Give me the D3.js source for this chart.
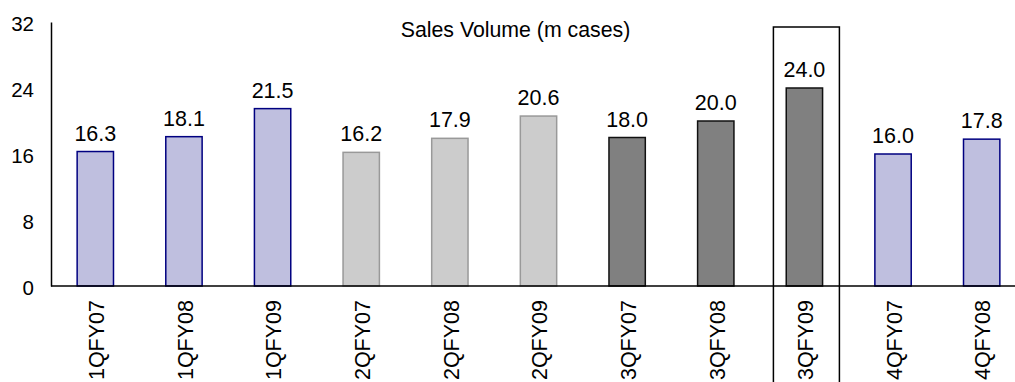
<!DOCTYPE html>
<html>
<head>
<meta charset="utf-8">
<script src="https://cdn.jsdelivr.net/npm/d3@7"></script>
<style>
  html, body { margin: 0; padding: 0; background: #fff; overflow: hidden; }
  svg { display: block; font-family: Arial, "Liberation Sans", sans-serif; }
</style>
</head>
<body>
<svg id="chart" width="1015" height="382"></svg>
<script>
const categories = ["1QFY07","1QFY08","1QFY09","2QFY07","2QFY08","2QFY09","3QFY07","3QFY08","3QFY09","4QFY07","4QFY08"];
const salesVolume = [16.3, 18.1, 21.5, 16.2, 17.9, 20.6, 18.0, 20.0, 24.0, 16.0, 17.8];
const quarterGroup = ["Q1","Q1","Q1","Q2","Q2","Q2","Q3","Q3","Q3","Q4","Q4"];
const yTicks = [0, 8, 16, 24, 32];
const highlighted = "3QFY09";
const title = "Sales Volume (m cases)";

const fills = { Q1: "#bfbfdf", Q2: "#cccccc", Q3: "#808080", Q4: "#bfbfdf" };
const strokes = { Q1: "#000080", Q2: "#999999", Q3: "#111111", Q4: "#000080" };

const svg = d3.select("#chart");
const W = 1015, H = 382;
const x0 = 51, x1 = 1026, yBase = 286, yTop = 22;

const x = d3.scaleBand().domain(categories).range([x0, x1]).paddingInner(0.59).paddingOuter(0.295);
const y = d3.scaleLinear().domain([0, 32]).range([yBase, yTop]);

const data = categories.map((c, i) => ({ c, v: salesVolume[i], g: quarterGroup[i] }));

// highlight box
const hc = x(highlighted) + x.bandwidth() / 2;
svg.append("rect")
  .attr("x", hc - 31).attr("y", 27)
  .attr("width", 66).attr("height", H - 27 + 10)
  .attr("fill", "none").attr("stroke", "#000").attr("stroke-width", 1.5);

// bars
svg.selectAll("rect.bar").data(data).enter().append("rect")
  .attr("class", "bar")
  .attr("x", d => x(d.c))
  .attr("y", d => y(d.v))
  .attr("width", x.bandwidth())
  .attr("height", d => yBase - y(d.v))
  .attr("fill", d => fills[d.g])
  .attr("stroke", d => strokes[d.g])
  .attr("stroke-width", 1.5);

// value labels
svg.selectAll("text.val").data(data).enter().append("text")
  .attr("class", "val")
  .attr("x", d => x(d.c) + x.bandwidth() / 2)
  .attr("y", d => y(d.v) - 11)
  .attr("text-anchor", "middle")
  .attr("font-size", 21.5)
  .attr("fill", "#000")
  .text(d => d.v.toFixed(1));

// y axis
const yAxis = d3.axisLeft(y).tickValues(yTicks).tickSize(0).tickPadding(17).tickFormat(d3.format("d"));
const yg = svg.append("g").attr("transform", `translate(${x0},0)`).call(yAxis);
yg.select(".domain").attr("stroke", "#000").attr("stroke-width", 1.5);
yg.selectAll(".tick text").attr("font-size", 20.5).attr("font-family", "Arial, 'Liberation Sans', sans-serif").attr("fill", "#000").attr("dy", "0.4em");

// x axis baseline
const xAxis = d3.axisBottom(x).tickSize(0).tickPadding(0);
const xg = svg.append("g").attr("transform", `translate(0,${yBase})`).call(xAxis);
xg.select(".domain").attr("d", `M${x0},0H${W}`).attr("stroke", "#000").attr("stroke-width", 1.5);
xg.selectAll(".tick text")
  .attr("font-size", 21.5)
  .attr("font-family", "Arial, 'Liberation Sans', sans-serif")
  .attr("fill", "#000")
  .attr("text-anchor", "end")
  .attr("transform", "translate(1,14) rotate(-90)")
  .attr("x", 0).attr("y", 0)
  .attr("dy", "0.36em");

// title
svg.append("text")
  .attr("x", 515.5).attr("y", 37)
  .attr("text-anchor", "middle")
  .attr("font-size", 21.3)
  .attr("fill", "#000")
  .text(title);
</script>
</body>
</html>
